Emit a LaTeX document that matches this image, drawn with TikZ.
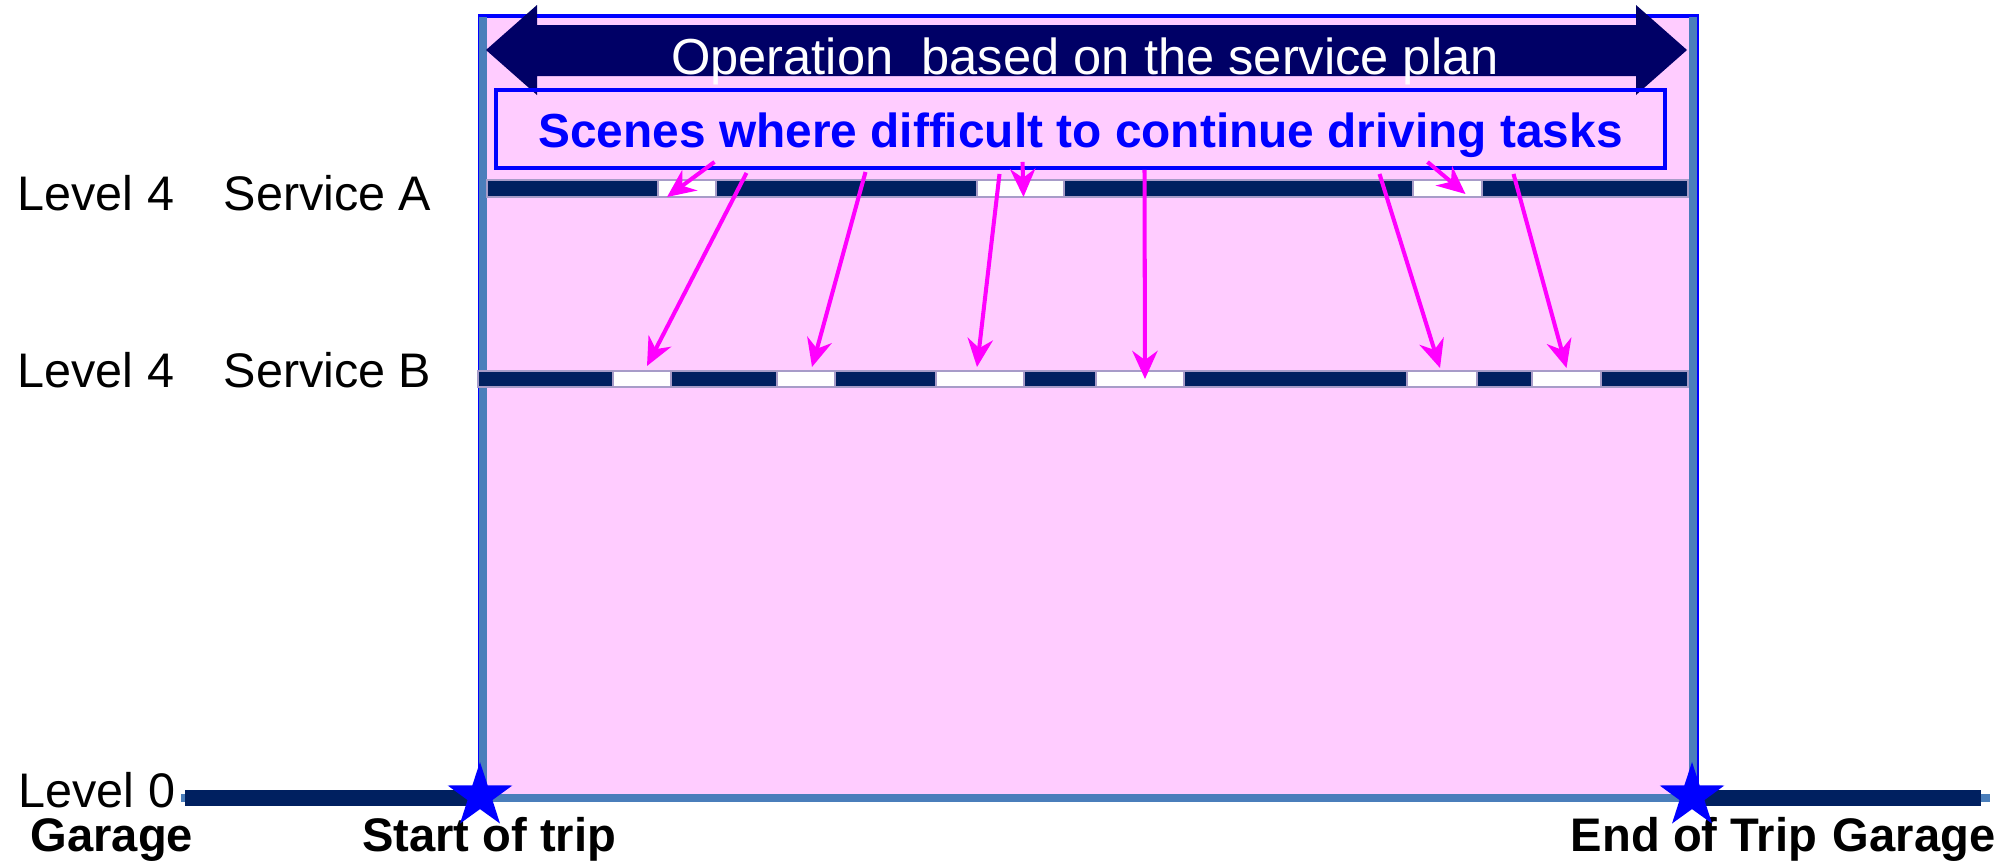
\documentclass[tikz,border=0pt]{standalone}
\usepackage{fontspec}
\setmainfont{Liberation Sans}
\usetikzlibrary{arrows.meta,calc,shapes.geometric}
\definecolor{pinkbg}{HTML}{FFCCFF}
\definecolor{navybar}{HTML}{002060}
\definecolor{opnavy}{HTML}{000066}
\definecolor{steel}{HTML}{4A7EBB}
\definecolor{gapedge}{HTML}{A79CC8}
\definecolor{scenepink}{HTML}{FF00FF}
\tikzset{
  lvl/.style={anchor=base west,inner sep=0pt,font=\fontsize{13.8}{16}\selectfont},
  trip/.style={anchor=base,inner sep=0pt,font=\bfseries\fontsize{13.4}{16}\selectfont},
  gap/.style={draw=gapedge,fill=white,line width=0.3pt,inner sep=0pt,outer sep=0pt},
  scenearrow/.style={scenepink,line width=1.15pt,-{Stealth[length=8pt,width=7.2pt]}},
  tripstar/.style={star,star points=5,star point ratio=2.6,fill=blue,inner sep=0pt,minimum size=0.68cm}
}

\begin{document}
\begin{tikzpicture}[x=0.01cm,y=-0.01cm]
    \useasboundingbox (0,0) rectangle (2015,860);

    % Draw operating area
    \filldraw[fill=pinkbg,draw=blue,line width=0.9pt] (480,16) rectangle (1697,798);
    \draw[steel,line width=2.3pt] (483,17) -- (483,798);
    \draw[steel,line width=2.3pt] (1693,17) -- (1693,798);
    \draw[steel,line width=2.5pt] (181,798) -- (1990,798);

    % Draw level 0
    \draw[navybar,line width=4.6pt] (185,798) -- (482,798);
    \draw[navybar,line width=4.6pt] (1692,798) -- (1981,798);

    % Draw service lines
    \filldraw[fill=navybar,draw=gapedge,line width=0.3pt] (487,180) rectangle (1688,197);
    \filldraw[fill=navybar,draw=gapedge,line width=0.3pt] (478,371) rectangle (1688,387);
    \foreach \n/\xa/\xb in {a1/658/716,a2/977/1064,a3/1413/1482}
        \node[gap,minimum width={(\xb-\xa)*0.01cm},minimum height=0.17cm] (\n) at ({(\xa+\xb)/2},188.5) {};
    \foreach \n/\xa/\xb in {b1/613/671,b2/777/835,b3/936/1024,b4/1096/1184,b5/1407/1477,b6/1532/1601}
        \node[gap,minimum width={(\xb-\xa)*0.01cm},minimum height=0.16cm] (\n) at ({(\xa+\xb)/2},379) {};

    % Draw operation arrow
    \fill[opnavy] (486,50) -- (537,5) -- (537,25) -- (1636,25) -- (1636,5) -- (1687,50) -- (1636,95) -- (1636,76) -- (537,76) -- (537,95) -- cycle;
    \node[anchor=base,inner sep=0pt,text=white,font=\fontsize{14.4}{17}\selectfont] (operation) at (1085,74) {Operation\ \ based on the service plan};

    % Draw scenes box
    \node[draw=blue,line width=1.1pt,inner sep=0pt,minimum width=11.69cm,minimum height=0.78cm,text=blue,font=\bfseries\fontsize{13.6}{16}\selectfont,text height=13.9pt,text depth=3.1pt] (scenes) at (1080.5,129) {Scenes where difficult to continue driving tasks};

    % Draw scene arrows
    \draw[scenearrow] ($(scenes.south)+(-366,-8)$) -- ($(a1.south west)+(9,0)$);
    \draw[scenearrow] ($(scenes.south)+(-334,3)$) -- ($(b1.north)+(5,-5)$);
    \draw[scenearrow] ($(scenes.south)+(-215,2)$) -- ($(b2.north)+(6,-4)$);
    \draw[scenearrow] ($(scenes.south)+(-81,4)$) -- ($(b3.north)+(-3,-4)$);
    \draw[scenearrow] ($(scenes.south)+(-58,-8)$) -- ($(a2.south)+(3,0)$);
    \draw[scenearrow] ($(scenes.south)+(64,0)$) -- ($(b4.center)+(5,0)$);
    \draw[scenearrow] ($(scenes.south)+(347,-8)$) -- ($(a3.south)+(18,-3)$);
    \draw[scenearrow] ($(scenes.south)+(299,4)$) -- ($(b5.north)+(-2,-3)$);
    \draw[scenearrow] ($(scenes.south)+(433,4)$) -- ($(b6.north)+(0,-3)$);

    % Labels
    \node[lvl] (levelA) at (17,210) {Level 4};
    \node[lvl] (serviceA) at (223,210) {Service A};
    \node[lvl] (levelB) at (17,387) {Level 4};
    \node[lvl] (serviceB) at (223,387) {Service B};
    \node[lvl] (levelzero) at (18,807) {Level 0};
    \node[trip] (garageL) at (112,851) {Garage};
    \node[trip] (tripstart) at (489,851) {Start of trip};
    \node[trip] (tripend) at (1694,851) {End of Trip};
    \node[trip] (garageR) at (1914,851) {Garage};

    % Draw stars
    \node[tripstar] (starL) at (480,796) {};
    \node[tripstar] (starR) at (1692,796) {};
\end{tikzpicture}
\end{document}
